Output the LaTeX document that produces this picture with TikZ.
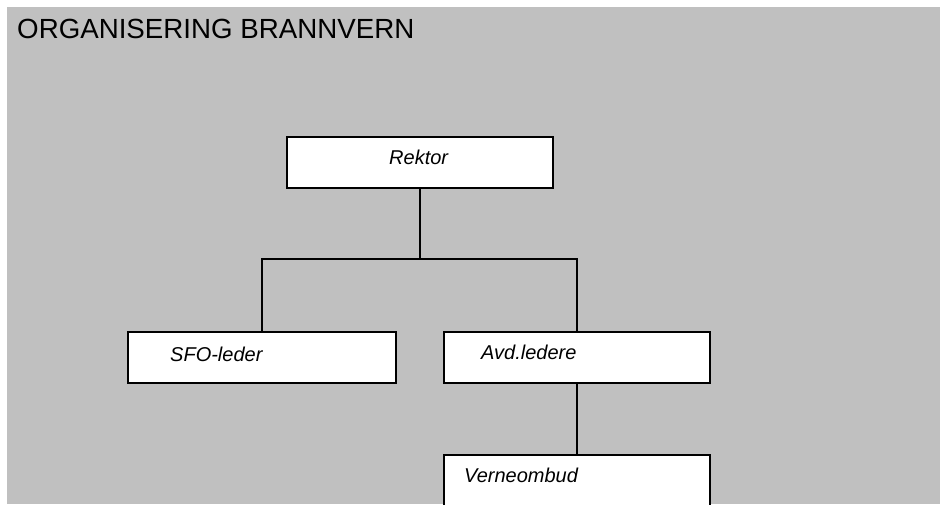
\documentclass[tikz,border=0pt]{standalone}
\usepackage{fontspec}
\setmainfont{Liberation Sans}
\definecolor{bggray}{HTML}{C0C0C0}
\begin{document}
\begin{tikzpicture}[x=1pt,y=-1pt,
  box/.style={draw=black, fill=white, line width=1.3pt, rectangle, inner sep=0pt},
  lbl/.style={inner sep=0pt, anchor=base west, font=\fontsize{20}{23}\selectfont\itshape},
  conn/.style={draw=black, line width=1.3pt}]
\useasboundingbox (0,0) rectangle (940,504);
\fill[bggray] (7,7) rectangle (940,504);
\node[inner sep=0pt, anchor=base west, font=\fontsize{27.7}{30}\selectfont] (title) at (17,38) {ORGANISERING BRANNVERN};
\node[box, minimum width=266pt, minimum height=51pt] (rektor) at (420,162.5) {};
\node[box, minimum width=268pt, minimum height=51pt] (sfo) at (262,357.5) {};
\node[box, minimum width=266pt, minimum height=51pt] (avd) at (577,357.5) {};
\node[box, minimum width=266pt, minimum height=62pt] (verne) at (577,486) {};
\node[lbl] (rektort) at (389,164) {Rektor};
\node[lbl] (sfot) at (170,361) {SFO-leder};
\node[lbl] (avdt) at (481,359) {Avd.ledere};
\node[lbl] (vernet) at (464,482) {Verneombud};
\coordinate (j) at (420,259);
\draw[conn] (rektor.south) -- (j);
\draw[conn] (sfo.north) |- (j) -| (avd.north);
\draw[conn] (avd.south) -- (verne.north);
\end{tikzpicture}
\end{document}
